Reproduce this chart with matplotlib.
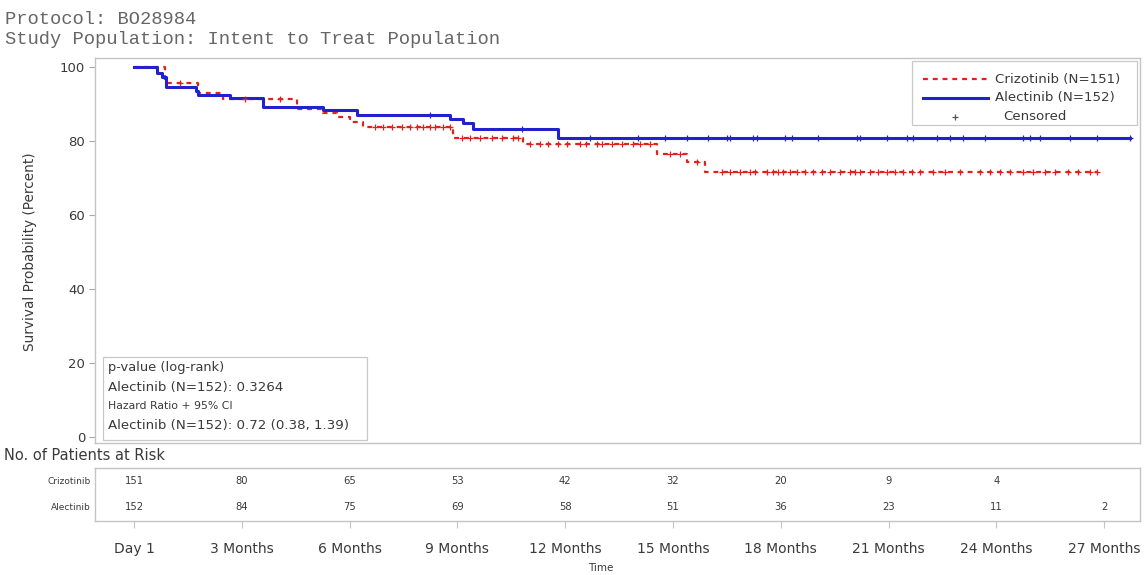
import numpy as np
import matplotlib
matplotlib.use("Agg")
import matplotlib.pyplot as plt
from matplotlib.lines import Line2D
from matplotlib.patches import Rectangle

plt.rcParams['font.family'] = ['DejaVu Sans']

# ---- Kaplan-Meier step data (time in months, survival in percent) ----
crizo_times = [0.0, 0.86, 1.78, 2.48, 4.54, 5.26, 5.65, 6.01, 6.38, 8.88, 10.83, 14.56, 15.40, 15.90]
crizo_surv = [100.0, 95.7, 93.0, 91.4, 88.6, 87.6, 86.5, 85.1, 83.8, 80.8, 79.2, 76.5, 74.3, 71.6]
crizo_end = 26.81

alec_times = [0.0, 0.64, 0.78, 0.89, 1.73, 1.78, 2.67, 3.59, 5.26, 6.21, 8.80, 9.16, 9.44, 11.80]
alec_surv = [100.0, 98.4, 97.3, 94.6, 93.5, 92.4, 91.6, 89.2, 88.4, 87.0, 85.9, 84.9, 83.2, 80.8]
alec_end = 27.73

# censoring times (months)
crizo_cens = [1.28, 3.09, 4.06,
              6.71, 6.93, 7.18, 7.46, 7.68, 7.88, 8.05, 8.24, 8.38, 8.60, 8.80,
              9.13, 9.35, 9.63, 9.97, 10.24, 10.55, 10.69,
              11.02, 11.30, 11.53, 11.80, 12.05, 12.42, 12.58, 12.89, 13.03, 13.31,
              13.59, 13.89, 14.09, 14.37, 14.92, 15.20, 15.67,
              16.37, 16.59, 16.87, 17.15, 17.29, 17.62, 17.79, 17.93, 18.07, 18.26,
              18.46, 18.68, 18.90, 19.15, 19.38, 19.65, 19.93, 20.07, 20.21, 20.49,
              20.71, 20.96, 21.19, 21.41, 21.66, 21.88, 22.24, 22.58, 22.99, 23.55,
              23.83, 24.11, 24.39, 24.75, 25.03, 25.36, 25.64, 26.00, 26.28, 26.61, 26.81]
alec_cens = [8.24, 10.80, 12.69, 14.03, 14.78, 15.40, 15.98, 16.51, 16.59, 17.23,
             17.34, 18.12, 18.32, 19.04, 20.13, 20.21, 20.96, 21.52, 21.69, 22.36,
             22.72, 23.08, 23.69, 24.75, 24.94, 25.22, 26.06, 26.81, 27.73]

# ---- numbers at risk ----
risk_months = [0, 3, 6, 9, 12, 15, 18, 21, 24, 27]
crizo_risk = [151, 80, 65, 53, 42, 32, 20, 9, 4, None]
alec_risk = [152, 84, 75, 69, 58, 51, 36, 23, 11, 2]
tick_labels = ["Day 1", "3 Months", "6 Months", "9 Months", "12 Months",
               "15 Months", "18 Months", "21 Months", "24 Months", "27 Months"]

RED = "#e3211c"
BLUE = "#2222cc"
GRAY = "#a8a8a8"
TXT = "#3a3a3a"

W, H = 1144, 575
fig = plt.figure(figsize=(W / 100, H / 100), dpi=100)
fig.patch.set_facecolor("white")


def fx(px):
    return px / W


def fy(py):
    return 1 - py / H


ax = fig.add_axes([fx(95), fy(443), fx(1140) - fx(95), fy(58) - fy(443)])
rax = fig.add_axes([fx(95), fy(521), fx(1140) - fx(95), fy(468) - fy(521)])

xlim = (-1.086, 28.0)


def step_value(times, surv, t):
    i = np.searchsorted(times, t, side="right") - 1
    return surv[i]


# survival curves
for times, surv, end, cens, color, ls, lw in [
        (crizo_times, crizo_surv, crizo_end, crizo_cens, RED, (0, (2.2, 2.2)), 1.6),
        (alec_times, alec_surv, alec_end, alec_cens, BLUE, "-", 2.2)]:
    tx = list(times) + [end]
    sy = list(surv) + [surv[-1]]
    ax.step(tx, sy, where="post", color=color, linestyle=ls, lw=lw, zorder=3)
    cy = [step_value(np.array(times), np.array(surv), t) for t in cens]
    ax.plot(cens, cy, linestyle="none", marker="+", ms=4, mew=0.9, color=color, zorder=4)

ax.set_xlim(*xlim)
ax.set_ylim(-1.6, 102.4)
ax.set_yticks([0, 20, 40, 60, 80, 100])
ax.set_xticks([])
ax.tick_params(axis="y", length=4, width=0.8, color=GRAY, labelsize=9.5, labelcolor=TXT, pad=3)
for s in ax.spines.values():
    s.set_color("#c4c4c4")
    s.set_linewidth(1.0)

fig.text(fx(30), fy(252), "Survival Probability (Percent)", rotation=90,
         ha="center", va="center", fontsize=9.8, color=TXT)

# legend
leg_box = Rectangle((fx(912), fy(125)), fx(1137) - fx(912), fy(61) - fy(125),
                    transform=fig.transFigure, facecolor="white", edgecolor="#c8c8c8",
                    lw=0.9, zorder=5)
fig.add_artist(leg_box)
fig.add_artist(Line2D([fx(923), fx(988)], [fy(79), fy(79)], transform=fig.transFigure,
                      color=RED, linestyle=(0, (2.2, 2.2)), lw=1.6, zorder=6))
fig.add_artist(Line2D([fx(923), fx(988)], [fy(98), fy(98)], transform=fig.transFigure,
                      color=BLUE, lw=2.2, zorder=6))
fig.add_artist(Line2D([fx(955)], [fy(117)], transform=fig.transFigure, marker="+",
                      ms=4, mew=0.9, color="#555555", zorder=6))
for y, s, x in [(79, "Crizotinib (N=151)", 995), (98, "Alectinib (N=152)", 995),
                (117, "Censored", 1003)]:
    fig.text(fx(x), fy(y), s, ha="left", va="center", fontsize=9.6, color=TXT, zorder=7)

# statistics inset
ins_box = Rectangle((fx(103), fy(440)), fx(367) - fx(103), fy(357) - fy(440),
                    transform=fig.transFigure, facecolor="white", edgecolor="#c8c8c8",
                    lw=0.9, zorder=5)
fig.add_artist(ins_box)
for y, s, fs in [(368, "p-value (log-rank)", 9.4),
                 (387, "Alectinib (N=152): 0.3264", 9.6),
                 (406, "Hazard Ratio + 95% CI", 7.8),
                 (425, "Alectinib (N=152): 0.72 (0.38, 1.39)", 9.6)]:
    fig.text(fx(108), fy(y), s, ha="left", va="center", fontsize=fs, color=TXT, zorder=7)

# risk table
rax.set_xlim(*xlim)
rax.set_ylim(0, 1)
rax.set_yticks([])
rax.set_xticks(risk_months)
rax.set_xticklabels(tick_labels)
rax.tick_params(axis="x", length=5, width=0.8, color="#c4c4c4", labelsize=10,
                labelcolor=TXT, pad=10)
for s in rax.spines.values():
    s.set_color("#c4c4c4")
    s.set_linewidth(1.0)
for m, c, a in zip(risk_months, crizo_risk, alec_risk):
    if c is not None:
        rax.text(m, 0.755, str(c), ha="center", va="center", fontsize=7.2, color=TXT)
    if a is not None:
        rax.text(m, 0.264, str(a), ha="center", va="center", fontsize=7.2, color=TXT)
fig.text(fx(91), fy(481), "Crizotinib", ha="right", va="center", fontsize=6.5, color=TXT)
fig.text(fx(91), fy(507), "Alectinib", ha="right", va="center", fontsize=6.5, color=TXT)
fig.text(fx(4), fy(455), "No. of Patients at Risk", ha="left", va="center",
         fontsize=10.5, color=TXT)
fig.text(fx(601), fy(568), "Time", ha="center", va="center", fontsize=7.5, color=TXT)

# header
fig.text(fx(5), fy(20), "Protocol: BO28984", ha="left", va="center",
         family="Liberation Mono", fontsize=13.5, color="#666666")
fig.text(fx(5), fy(40), "Study Population: Intent to Treat Population", ha="left",
         va="center", family="Liberation Mono", fontsize=13.5, color="#666666")

fig.savefig("out.png", dpi=100)
